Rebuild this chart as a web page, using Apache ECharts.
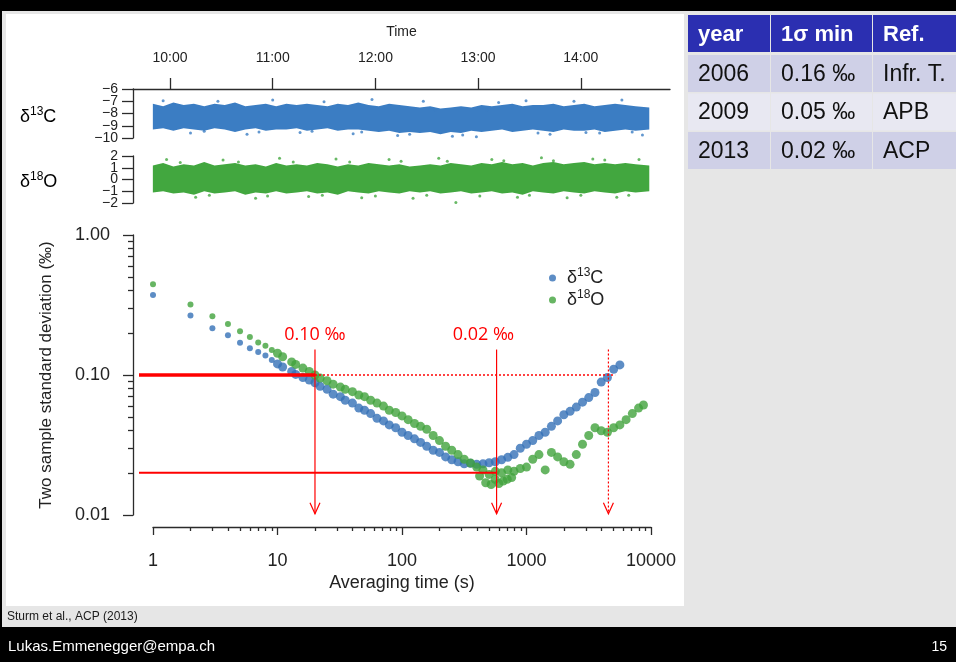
<!DOCTYPE html>
<html>
<head>
<meta charset="utf-8">
<script src="https://cdn.jsdelivr.net/npm/echarts@6/dist/echarts.min.js"></script>
<style>
  html, body { margin: 0; padding: 0; background: #e6e6e6; }
  #chart { width: 956px; height: 662px; }
</style>
</head>
<body>
<div id="chart"></div>
<script>
// ---------- time series panels (minutes since midnight) ----------
const timeTickLabels = ['10:00', '11:00', '12:00', '13:00', '14:00'];
const c13TickLabels = ['−10', '−9', '−8', '−7', '−6'];
const o18TickLabels = ['−2', '−1', '0', '1', '2'];

const bandTimes = [590, 596, 602, 608, 614, 620, 626, 632, 638, 644, 650, 656, 662, 668, 674, 680, 686,
  692, 698, 704, 710, 716, 722, 728, 734, 740, 746, 752, 758, 764, 770, 776, 782, 788, 794, 800, 806,
  812, 818, 824, 830, 836, 842, 848, 854, 860, 866, 872, 880];

// upper / lower edge of the dense δ13C cloud
const c13Upper = [-7.2, -7.4, -7.1, -7.3, -7.2, -7.4, -7.2, -7.3, -7.1, -7.4, -7.3, -7.2, -7.4, -7.2, -7.3,
  -7.2, -7.3, -7.4, -7.2, -7.3, -7.1, -7.3, -7.4, -7.2, -7.3, -7.4, -7.5, -7.4, -7.6, -7.5, -7.4, -7.5,
  -7.3, -7.4, -7.3, -7.2, -7.4, -7.3, -7.3, -7.2, -7.4, -7.3, -7.2, -7.4, -7.3, -7.2, -7.3, -7.4, -7.5];
const c13Lower = [-9.3, -9.2, -9.4, -9.2, -9.3, -9.4, -9.2, -9.3, -9.5, -9.3, -9.2, -9.4, -9.3, -9.3, -9.2,
  -9.4, -9.3, -9.2, -9.4, -9.3, -9.3, -9.4, -9.5, -9.4, -9.6, -9.5, -9.6, -9.5, -9.7, -9.5, -9.6, -9.4,
  -9.5, -9.4, -9.3, -9.5, -9.4, -9.3, -9.4, -9.5, -9.3, -9.4, -9.4, -9.3, -9.5, -9.4, -9.3, -9.4, -9.3];

// upper / lower edge of the dense δ18O cloud
const o18Upper = [1.2, 1.4, 1.1, 1.3, 1.2, 1.5, 1.2, 1.3, 1.4, 1.2, 1.3, 1.1, 1.4, 1.2, 1.3, 1.2, 1.4, 1.3,
  1.1, 1.3, 1.2, 1.4, 1.3, 1.2, 1.3, 1.1, 1.2, 1.3, 1.2, 1.4, 1.3, 1.2, 1.4, 1.3, 1.5, 1.3, 1.4, 1.2,
  1.4, 1.5, 1.3, 1.4, 1.5, 1.3, 1.4, 1.3, 1.4, 1.3, 1.2];
const o18Lower = [-1.1, -1.0, -1.2, -1.1, -1.3, -1.0, -1.2, -1.1, -1.0, -1.3, -1.1, -1.2, -1.0, -1.2, -1.1,
  -1.0, -1.2, -1.1, -1.3, -1.0, -1.1, -1.2, -1.0, -1.1, -1.2, -1.0, -1.1, -1.0, -1.2, -1.1, -1.0, -1.2,
  -1.1, -1.0, -1.2, -1.1, -1.3, -1.0, -1.1, -1.2, -1.0, -1.1, -1.2, -1.0, -1.1, -1.2, -1.0, -1.1, -1.0];

// isolated points outside the dense clouds
const c13Outliers = [[596, -6.95], [605, -7.6], [612, -9.6], [620, -9.45], [628, -7.0], [637, -7.55],
  [645, -9.7], [652, -9.5], [660, -6.9], [668, -7.6], [676, -9.55], [683, -9.45], [690, -7.05],
  [699, -7.55], [707, -9.65], [712, -9.5], [718, -6.85], [726, -7.6], [733, -9.8], [740, -9.7],
  [748, -7.0], [755, -7.7], [765, -9.85], [771, -9.75], [779, -9.9], [785, -7.7], [792, -7.1],
  [800, -7.55], [808, -6.95], [815, -9.6], [822, -9.7], [829, -7.5], [836, -7.0], [843, -9.55],
  [851, -9.6], [857, -7.55], [864, -6.9], [870, -9.5], [876, -9.75]];
const o18Outliers = [[598, 1.7], [606, 1.45], [615, -1.5], [623, -1.35], [631, 1.65], [640, 1.5],
  [650, -1.6], [657, -1.4], [664, 1.8], [672, 1.5], [681, -1.45], [689, -1.35], [697, 1.75],
  [705, 1.5], [712, -1.55], [720, -1.4], [728, 1.7], [735, 1.55], [742, -1.6], [750, -1.35],
  [757, 1.8], [762, 1.55], [767, -1.95], [773, -2.05], [781, -1.4], [788, 1.7], [795, 1.6],
  [803, -1.5], [810, -1.35], [817, 1.85], [824, 1.6], [832, -1.55], [840, -1.35], [847, 1.75],
  [854, 1.65], [861, -1.5], [868, -1.35], [874, 1.7]];

// ---------- two-sample (Allan) deviation ----------
const tau13C = [1, 2, 3, 4, 5, 6, 7, 8, 9, 10, 11, 13, 14, 16, 18, 20, 22, 25, 28, 32, 35, 40, 45, 50, 56,
  63, 71, 79, 89, 100, 112, 126, 141, 158, 178, 200, 224, 251, 282, 316, 355, 398, 447, 501, 562, 631,
  708, 794, 891, 1000, 1122, 1259, 1413, 1585, 1778, 1995, 2239, 2512, 2818, 3162, 3548, 3981, 4467,
  5012, 5623];
const sig13C = [0.372, 0.266, 0.216, 0.192, 0.170, 0.155, 0.146, 0.138, 0.128,
  0.120, 0.114, 0.106, 0.101, 0.096, 0.092, 0.088, 0.083, 0.079, 0.073,
  0.070, 0.066, 0.063, 0.058, 0.056, 0.053, 0.049, 0.047, 0.044, 0.042,
  0.039, 0.037, 0.035, 0.033, 0.031, 0.029, 0.028, 0.026, 0.0248, 0.0240,
  0.0232, 0.0234, 0.0230, 0.0232, 0.0236, 0.0240, 0.0248, 0.0258, 0.0270, 0.0300,
  0.032, 0.034, 0.037, 0.039, 0.043, 0.047, 0.052, 0.055, 0.059, 0.064,
  0.069, 0.075, 0.089, 0.096, 0.110, 0.118];

const tau18O = [1, 2, 3, 4, 5, 6, 7, 8, 9, 10, 11, 13, 14, 16, 18, 20, 22, 25, 28, 32, 35, 40, 45, 50, 56,
  63, 71, 79, 89, 100, 112, 126, 141, 158, 178, 200, 224, 251, 282, 316, 355, 398, 447, 501, 562, 631,
  708, 794, 891, 1000, 1122, 1259, 1413, 1585, 1778, 1995, 2239, 2512, 2818, 3162, 3548, 3981, 4467,
  5012, 5623, 6310, 7079, 7943, 8700, 420, 470, 520, 560, 600, 650, 700, 760];
const sig18O = [0.445, 0.319, 0.263, 0.231, 0.205, 0.187, 0.171, 0.162, 0.151,
  0.143, 0.135, 0.124, 0.119, 0.112, 0.106, 0.100, 0.095, 0.091, 0.086,
  0.082, 0.079, 0.076, 0.072, 0.070, 0.066, 0.063, 0.060, 0.056, 0.054,
  0.051, 0.048, 0.045, 0.043, 0.041, 0.037, 0.034, 0.031, 0.029, 0.027,
  0.025, 0.0235, 0.022, 0.021, 0.0195, 0.0205, 0.020, 0.021, 0.0205, 0.0215,
  0.022, 0.025, 0.027, 0.021, 0.028, 0.026, 0.024, 0.023, 0.027, 0.032,
  0.037, 0.042, 0.040, 0.039, 0.042, 0.044, 0.048, 0.053, 0.058, 0.061,
  0.019, 0.017, 0.0165, 0.018, 0.0168, 0.0175, 0.018, 0.0185];

const xTickLabels = ['1', '10', '100', '1000', '10000'];
const yTickLabels = ['0.01', '0.10', '1.00'];

// reference levels and averaging times marked in red
const refLevels = [0.10, 0.02];
const refTimes = [20, 575, 4550];
const refLabels = ['0.10 ‰', '0.02 ‰'];
const refLabelTimes = [20, 450];

// precision table
const tableHeader = ['year', '1σ min', 'Ref.'];
const tableRows = [
  ['2006', '0.16 ‰', 'Infr. T.'],
  ['2009', '0.05 ‰', 'APB'],
  ['2013', '0.02 ‰', 'ACP']
];

// ---------- drawing ----------
const FONT = '"Liberation Sans", Arial, Helvetica, sans-serif';
const AXIS = '#2b2b2b';
const TXT = '#222';
const BLUE_T = '#3b7dc3', GREEN_T = '#42a73f';
const BLUE = '#3470b6', GREEN = '#41a23c';
const RED = '#ff0000';

const toMinutes = s => { const p = s.split(':'); return +p[0] * 60 + +p[1]; };
const timeTickValues = timeTickLabels.map(toMinutes);
const tMin = 578.4, tMax = 892.1;
const toNumber = s => Number(s.replace('\u2212', '-'));
const c13TickValues = c13TickLabels.map(toNumber);
const o18TickValues = o18TickLabels.map(toNumber);

const majorX = xTickLabels.map(Number);
const majorY = yTickLabels.map(Number);
const minorX = [], minorY = [];
[1, 10, 100, 1000].forEach(d => { for (let k = 2; k <= 9; k++) minorX.push(k * d); });
[0.01, 0.1].forEach(d => { for (let k = 2; k <= 9; k++) minorY.push(+(k * d).toFixed(3)); });

const decIndex = v => Math.round(Math.log10(v));

function bandRenderer(upper, lower, color) {
  return function (params, api) {
    const pts = [];
    for (let i = 0; i < bandTimes.length; i++) pts.push(api.coord([bandTimes[i], upper[i]]));
    for (let i = bandTimes.length - 1; i >= 0; i--) pts.push(api.coord([bandTimes[i], lower[i]]));
    return { type: 'polygon', shape: { points: pts }, style: { fill: color } };
  };
}

// tick labels of the narrow panels are drawn here so none of them gets dropped
function tickLabelRenderer(values, labels) {
  return function (params, api) {
    const kids = values.map((v, i) => {
      const p = api.coord([tMin, v]);
      return { type: 'text', style: { text: labels[i], x: p[0] - 15, y: p[1], align: 'right',
        verticalAlign: 'middle', fill: TXT, font: '14px ' + FONT } };
    });
    return { type: 'group', children: kids };
  };
}

function annotationRenderer(params, api) {
  const seg = (a, b, w, dash) => ({
    type: 'line',
    shape: { x1: a[0], y1: a[1], x2: b[0], y2: b[1] },
    style: { stroke: RED, lineWidth: w, lineDash: dash || null }
  });
  const lineStart = 0.772, dottedEnd = 5150, arrowTop = 0.152, arrowBottom = 0.0102;
  const kids = [];
  kids.push(seg(api.coord([lineStart, refLevels[0]]), api.coord([refTimes[0], refLevels[0]]), 3.5));
  kids.push(seg(api.coord([refTimes[0], refLevels[0]]), api.coord([dottedEnd, refLevels[0]]), 1.3, [2, 2]));
  kids.push(seg(api.coord([lineStart, refLevels[1]]), api.coord([refTimes[1], refLevels[1]]), 2));
  refTimes.forEach((t, i) => {
    const top = api.coord([t, arrowTop]);
    const bot = api.coord([t, arrowBottom]);
    const dash = i === 2 ? [2, 2] : null;
    kids.push(seg(top, bot, 1.2, dash));
    kids.push({
      type: 'polyline',
      shape: { points: [[bot[0] - 5, bot[1] - 11], [bot[0], bot[1]], [bot[0] + 5, bot[1] - 11]] },
      style: { stroke: RED, lineWidth: 1.2, fill: null }
    });
  });
  refLabels.forEach((txt, i) => {
    const p = api.coord([refLabelTimes[i], 0.195]);
    kids.push({
      type: 'text',
      style: { text: txt, x: p[0], y: p[1], align: 'center', verticalAlign: 'middle',
        fill: RED, font: '18px "Open Sans", "Liberation Sans", sans-serif' }
    });
  });
  return { type: 'group', children: kids };
}

const supRich = {
  d: { fontSize: 18, fontFamily: FONT, color: TXT, lineHeight: 22 },
  s: { fontSize: 12, fontFamily: FONT, color: TXT, lineHeight: 12, verticalAlign: 'top' }
};

// background pieces and the table
const graphics = [
  { type: 'rect', z: -10, shape: { x: 0, y: 0, width: 956, height: 11 }, style: { fill: '#000' } },
  { type: 'rect', z: -10, shape: { x: 0, y: 0, width: 2, height: 662 }, style: { fill: '#000' } },
  { type: 'rect', z: -10, shape: { x: 6, y: 14, width: 678, height: 592 }, style: { fill: '#fff' } },
  { type: 'rect', z: -10, shape: { x: 0, y: 627, width: 956, height: 35 }, style: { fill: '#000' } },
  { type: 'text', z: 10, style: { text: 'Sturm et al., ACP (2013)', x: 7, y: 617, verticalAlign: 'middle',
      fill: '#1a1a1a', font: '12px ' + FONT } },
  { type: 'text', z: 10, style: { text: 'Lukas.Emmenegger@empa.ch', x: 8, y: 647, verticalAlign: 'middle',
      fill: '#fff', font: '15px ' + FONT } },
  { type: 'text', z: 10, style: { text: '15', x: 947, y: 647, align: 'right', verticalAlign: 'middle',
      fill: '#fff', font: '14px ' + FONT } },
  { type: 'text', z: 10, style: { text: '{d|δ}{s|13}{d|C}', rich: supRich, x: 20, y: 117, verticalAlign: 'middle' } },
  { type: 'text', z: 10, style: { text: '{d|δ}{s|18}{d|O}', rich: supRich, x: 20, y: 182, verticalAlign: 'middle' } }
];

const colX = [688, 771, 873], colW = [82, 101, 83];
const rowY = [15, 55, 93.5, 132], rowH = [37, 37, 37, 37];
const rowFill = ['#2b2fb1', '#cfd0e7', '#e8e8f2', '#cfd0e7'];
[tableHeader].concat(tableRows).forEach((row, r) => {
  row.forEach((cell, c) => {
    graphics.push({ type: 'rect', z: -5,
      shape: { x: colX[c], y: rowY[r], width: colW[c], height: rowH[r] },
      style: { fill: rowFill[r] } });
    graphics.push({ type: 'text', z: 10,
      style: { text: cell, x: colX[c] + 10, y: rowY[r] + rowH[r] / 2 + 1, verticalAlign: 'middle',
        fill: r === 0 ? '#fff' : '#111',
        font: (r === 0 ? 'bold 22px ' : '23px ') + FONT } });
  });
});

const chart = echarts.init(document.getElementById('chart'), null, { renderer: 'canvas' });

const tickStyle = { color: AXIS, width: 1.3 };

chart.setOption({
  animation: false,
  backgroundColor: '#e6e6e6',
  textStyle: { fontFamily: FONT },
  graphic: graphics,
  grid: [
    { left: 133, top: 89, width: 537, height: 49 },
    { left: 133, top: 156, width: 537, height: 47 },
    { left: 153, top: 235, width: 498, height: 280 }
  ],
  legend: {
    data: ['δ13C', 'δ18O'],
    orient: 'vertical',
    left: 544, top: 262,
    itemWidth: 7, itemHeight: 7, itemGap: 2,
    icon: 'circle',
    formatter: n => (n === 'δ13C' ? '{d|δ}{s|13}{d|C}' : '{d|δ}{s|18}{d|O}'),
    textStyle: { padding: [0, 0, 0, 6], rich: supRich }
  },
  xAxis: [
    {
      gridIndex: 0, type: 'value', min: tMin, max: tMax, position: 'top',
      axisLine: { show: true, lineStyle: tickStyle },
      axisTick: { show: true, customValues: timeTickValues, length: 11, lineStyle: tickStyle },
      axisLabel: { customValues: timeTickValues, margin: 24, fontSize: 14, color: TXT,
        formatter: v => timeTickLabels[timeTickValues.indexOf(Math.round(v))] },
      splitLine: { show: false },
      name: 'Time', nameLocation: 'middle', nameGap: 50,
      nameTextStyle: { fontSize: 14, color: TXT }
    },
    { gridIndex: 1, type: 'value', min: tMin, max: tMax, show: false },
    {
      gridIndex: 2, type: 'log', logBase: 10, min: 1, max: 10000, position: 'bottom', offset: 12,
      axisLine: { show: true, lineStyle: tickStyle },
      axisTick: { show: true, customValues: majorX, length: 8, lineStyle: tickStyle },
      axisLabel: { customValues: majorX, margin: 25, fontSize: 18, color: TXT,
        formatter: v => xTickLabels[decIndex(v)] },
      splitLine: { show: false }, minorTick: { show: false },
      name: 'Averaging time (s)', nameLocation: 'middle', nameGap: 47,
      nameTextStyle: { fontSize: 18, color: TXT }
    },
    {
      gridIndex: 2, type: 'log', logBase: 10, min: 1, max: 10000, position: 'bottom', offset: 12,
      axisLine: { show: false },
      axisTick: { show: true, customValues: minorX, length: 4, lineStyle: tickStyle },
      axisLabel: { show: false }, splitLine: { show: false }
    }
  ],
  yAxis: [
    {
      gridIndex: 0, type: 'value', min: -10, max: -6, interval: 1,
      axisLine: { show: true, lineStyle: tickStyle },
      axisTick: { show: true, length: 11, lineStyle: tickStyle },
      axisLabel: { show: false },
      splitLine: { show: false }
    },
    {
      gridIndex: 1, type: 'value', min: -2, max: 2, interval: 1,
      axisLine: { show: true, lineStyle: tickStyle },
      axisTick: { show: true, length: 11, lineStyle: tickStyle },
      axisLabel: { show: false },
      splitLine: { show: false }
    },
    {
      gridIndex: 2, type: 'log', logBase: 10, min: 0.01, max: 1, offset: 20, position: 'left',
      axisLine: { show: true, lineStyle: tickStyle },
      axisTick: { show: true, customValues: majorY, length: 10, lineStyle: tickStyle },
      axisLabel: { customValues: majorY, margin: 23, fontSize: 18, color: TXT,
        formatter: v => yTickLabels[decIndex(v) + 2] },
      splitLine: { show: false },
      name: 'Two sample standard deviation (‰)', nameLocation: 'middle', nameGap: 78,
      nameTextStyle: { fontSize: 17, color: TXT }
    },
    {
      gridIndex: 2, type: 'log', logBase: 10, min: 0.01, max: 1, offset: 20, position: 'left',
      axisLine: { show: false },
      axisTick: { show: true, customValues: minorY, length: 5, lineStyle: tickStyle },
      axisLabel: { show: false }, splitLine: { show: false }
    }
  ],
  series: [
    { type: 'custom', name: 'c13band', xAxisIndex: 0, yAxisIndex: 0, data: [[bandTimes[0], c13Upper[0]]],
      renderItem: bandRenderer(c13Upper, c13Lower, BLUE_T), silent: true },
    { type: 'scatter', name: 'c13pts', xAxisIndex: 0, yAxisIndex: 0, data: c13Outliers,
      symbolSize: 3, itemStyle: { color: BLUE_T }, silent: true },
    { type: 'custom', name: 'c13ticks', xAxisIndex: 0, yAxisIndex: 0, data: [[tMin, -8]], clip: false,
      renderItem: tickLabelRenderer(c13TickValues, c13TickLabels), silent: true },
    { type: 'custom', name: 'o18band', xAxisIndex: 1, yAxisIndex: 1, data: [[bandTimes[0], o18Upper[0]]],
      renderItem: bandRenderer(o18Upper, o18Lower, GREEN_T), silent: true },
    { type: 'scatter', name: 'o18pts', xAxisIndex: 1, yAxisIndex: 1, data: o18Outliers,
      symbolSize: 3, itemStyle: { color: GREEN_T }, silent: true },
    { type: 'custom', name: 'o18ticks', xAxisIndex: 1, yAxisIndex: 1, data: [[tMin, 0]], clip: false,
      renderItem: tickLabelRenderer(o18TickValues, o18TickLabels), silent: true },
    { type: 'scatter', name: 'δ13C', xAxisIndex: 2, yAxisIndex: 2,
      data: tau13C.map((t, i) => [t, sig13C[i]]),
      symbolSize: v => (v[0] < 10 ? 6 : 9), itemStyle: { color: BLUE } },
    { type: 'scatter', name: 'δ18O', xAxisIndex: 2, yAxisIndex: 2,
      data: tau18O.map((t, i) => [t, sig18O[i]]),
      symbolSize: v => (v[0] < 10 ? 6 : 9), itemStyle: { color: GREEN } },
    { type: 'custom', name: 'refs', xAxisIndex: 2, yAxisIndex: 2, data: [[refTimes[0], refLevels[0]]],
      renderItem: annotationRenderer, clip: false, silent: true, z: 5 }
  ]
});
</script>
</body>
</html>
